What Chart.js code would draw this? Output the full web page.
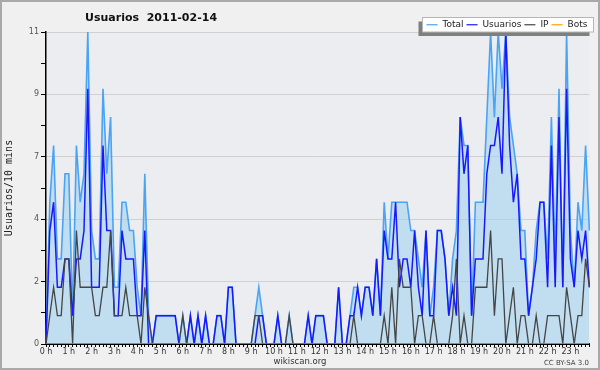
<!DOCTYPE html>
<html>
<head>
<meta charset="utf-8">
<script src="https://cdn.jsdelivr.net/npm/chart.js@4.4.1/dist/chart.umd.min.js"></script>
<style>
  html, body { margin: 0; padding: 0; background: #f0f0f0; }
  canvas { display: block; }
</style>
</head>
<body>
<canvas id="myChart" width="600" height="370"></canvas>
<script>
// edits per 10 minutes, 2011-02-14 (144 slots)
const usuarios = [
  0,4,5,2,2,3,3,1,3,3, 4,9,2,2,2,7,4,4,1,1, 4,3,3,3,1,1,4,0,0,1,
  1,1,1,1,1,0,0,0,1,0, 1,0,1,0,0,1,1,0,2,2, 0,0,0,0,0,0,1,1,0,0,
  0,1,0,0,0,0,0,0,0,1, 0,1,1,1,0,0,0,2,0,0, 1,1,2,1,2,2,1,3,1,4,
  3,3,5,2,3,3,2,4,2,1, 4,1,1,4,4,3,1,2,1,8, 6,7,1,3,3,3,6,7,7,8,
  6,11,7,5,6,3,3,1,2,3, 5,5,2,7,2,8,2,9,3,2, 4,3,4,2
];
const ip = [
  0,1,2,1,1,3,3,0,4,2, 2,2,2,1,1,2,2,4,1,1, 1,2,1,1,1,0,2,1,0,0,
  0,0,0,0,0,0,1,0,0,0, 0,0,0,0,0,0,0,0,0,0, 0,0,0,0,0,1,1,0,0,0,
  0,0,0,0,1,0,0,0,0,0, 0,0,0,0,0,0,0,0,0,0, 0,1,0,0,0,0,0,0,0,1,
  0,2,0,3,2,2,2,0,1,1, 0,0,1,0,0,0,0,1,3,0, 1,0,0,2,2,2,2,4,1,3,
  3,0,1,2,0,1,1,0,0,1, 0,0,1,1,1,1,0,2,1,0, 1,1,3,2
];
const total = [
  0,5,7,3,3,6,6,1,7,5, 6,11,4,3,3,9,6,8,2,2, 5,5,4,4,2,1,6,1,0,1,
  1,1,1,1,1,0,1,0,1,0, 1,0,1,0,0,1,1,0,2,2, 0,0,0,0,0,1,2,1,0,0,
  0,1,0,0,1,0,0,0,0,1, 0,1,1,1,0,0,0,2,0,0, 1,2,2,1,2,2,1,3,1,5,
  3,5,5,5,5,5,4,4,3,2, 4,1,2,4,4,3,1,3,4,8, 7,7,1,5,5,5,8,11,8,11,
  9,11,8,7,6,4,4,1,2,4, 5,5,3,8,3,9,2,11,4,2, 5,4,7,4
];
const bots = new Array(144).fill(0);

// one tick every 10 min, label on the hour
const timeLabels = [];
for (let i = 0; i < 144; i++) timeLabels.push(i % 6 === 0 ? (i / 6) + ' h' : '');

const yMax = 11;
const yStep = 1.1; // minor ticks, every second one is labelled

const seriesNames = ['Total', 'Usuarios', 'IP', 'Bots'];
const seriesColors = ['#4ba3f3', '#1818ff', '#454545', '#ffa500'];

const decor = {
  id: 'decor',
  beforeDraw(chart) {
    const { ctx, chartArea: a } = chart;
    ctx.save();
    ctx.fillStyle = '#f0f0f0';
    ctx.fillRect(0, 0, chart.width, chart.height);
    ctx.fillStyle = '#ecedf0';
    ctx.fillRect(a.left, a.top, a.right - a.left, a.bottom - a.top);
    ctx.strokeStyle = '#a9a9a9';
    ctx.lineWidth = 2;
    ctx.strokeRect(1, 1, chart.width - 2, chart.height - 2);
    ctx.restore();
  },
  afterDraw(chart) {
    const ctx = chart.ctx;
    ctx.save();
    // title
    ctx.fillStyle = '#111';
    ctx.font = 'bold 11px "DejaVu Sans"';
    ctx.textBaseline = 'alphabetic';
    ctx.textAlign = 'left';
    ctx.fillText('Usuarios  2011-02-14', 85, 21);

    // legend box with shadow
    const bx = 422.5, by = 17.5, bw = 171, bh = 14.5;
    ctx.fillStyle = '#7f7f7f';
    ctx.fillRect(bx - 4, by + 4, bw, bh);
    ctx.fillStyle = '#fff';
    ctx.fillRect(bx, by, bw, bh);
    ctx.strokeStyle = '#b5b5b5';
    ctx.lineWidth = 1;
    ctx.strokeRect(bx, by, bw, bh);

    ctx.font = '9px "DejaVu Sans"';
    ctx.textBaseline = 'middle';
    let x = bx + 4;
    const y = by + bh / 2;
    chart.data.datasets.forEach((ds, k) => {
      ctx.strokeStyle = seriesColors[k];
      ctx.lineWidth = 1.2;
      ctx.beginPath();
      ctx.moveTo(x, y);
      ctx.lineTo(x + 11, y);
      ctx.stroke();
      x += 16;
      ctx.fillStyle = '#222';
      ctx.fillText(ds.label, x, y);
      x += ctx.measureText(ds.label).width + 3;
    });

    // footer
    ctx.textBaseline = 'alphabetic';
    ctx.fillStyle = '#333';
    ctx.font = '8.5px "DejaVu Sans"';
    ctx.textAlign = 'center';
    ctx.fillText('wikiscan.org', 300, 364);
    ctx.font = '7px "DejaVu Sans"';
    ctx.textAlign = 'right';
    ctx.fillStyle = '#444';
    ctx.fillText('CC BY-SA 3.0', 589, 365);
    ctx.restore();
  }
};

const ctx = document.getElementById('myChart').getContext('2d');
const chart = new Chart(ctx, {
  type: 'line',
  data: {
    labels: timeLabels,
    datasets: [
      {
        label: seriesNames[0], data: total, borderColor: seriesColors[0],
        backgroundColor: 'rgba(158,207,240,0.55)', fill: 'origin',
        borderWidth: 1.6, order: 4
      },
      { label: seriesNames[1], data: usuarios, borderColor: seriesColors[1], borderWidth: 1.5, order: 3 },
      { label: seriesNames[2], data: ip, borderColor: seriesColors[2], borderWidth: 1.3, order: 2 },
      { label: seriesNames[3], data: bots, borderColor: seriesColors[3], borderWidth: 1, order: 1 }
    ]
  },
  options: {
    responsive: false,
    animation: false,
    devicePixelRatio: 1,
    elements: { point: { radius: 0 }, line: { tension: 0 } },
    layout: { padding: { top: 32, right: 10.6, bottom: 0, left: 0 } },
    plugins: { legend: { display: false }, tooltip: { enabled: false } },
    scales: {
      x: {
        type: 'category',
        offset: false,
        z: 1,
        border: { display: true, color: '#000', width: 2 },
        grid: { drawOnChartArea: false, drawTicks: true, tickLength: 3, color: '#000', tickColor: '#000' },
        ticks: {
          autoSkip: false, maxRotation: 0, minRotation: 0, padding: 0,
          color: '#333', font: { family: 'DejaVu Sans', size: 8 }
        },
        afterFit(scale) { scale.height = 26; }
      },
      y: {
        min: 0,
        max: yMax,
        border: { display: true, color: '#000', width: 1.5 },
        grid: {
          color: (c) => (c.index % 2 === 0 ? '#d0d0d0' : 'rgba(0,0,0,0)'),
          tickColor: '#000',
          tickLength: 5,
          drawTicks: true
        },
        ticks: {
          padding: 2,
          color: '#555',
          font: { family: 'DejaVu Sans', size: 8 },
          callback: (v, i) => (i % 2 === 0 ? String(Math.round(v)) : '')
        },
        afterBuildTicks(scale) {
          const t = [];
          for (let k = 0; k <= 10; k++) t.push({ value: +(k * yStep).toFixed(2) });
          scale.ticks = t;
        },
        title: {
          display: true,
          text: 'Usuarios/10 mins',
          color: '#222',
          font: { family: 'DejaVu Sans Mono', size: 10 },
          padding: { top: 3, bottom: 0 }
        },
        afterFit(scale) { scale.width = 46; }
      }
    }
  },
  plugins: [decor]
});
</script>
</body>
</html>
